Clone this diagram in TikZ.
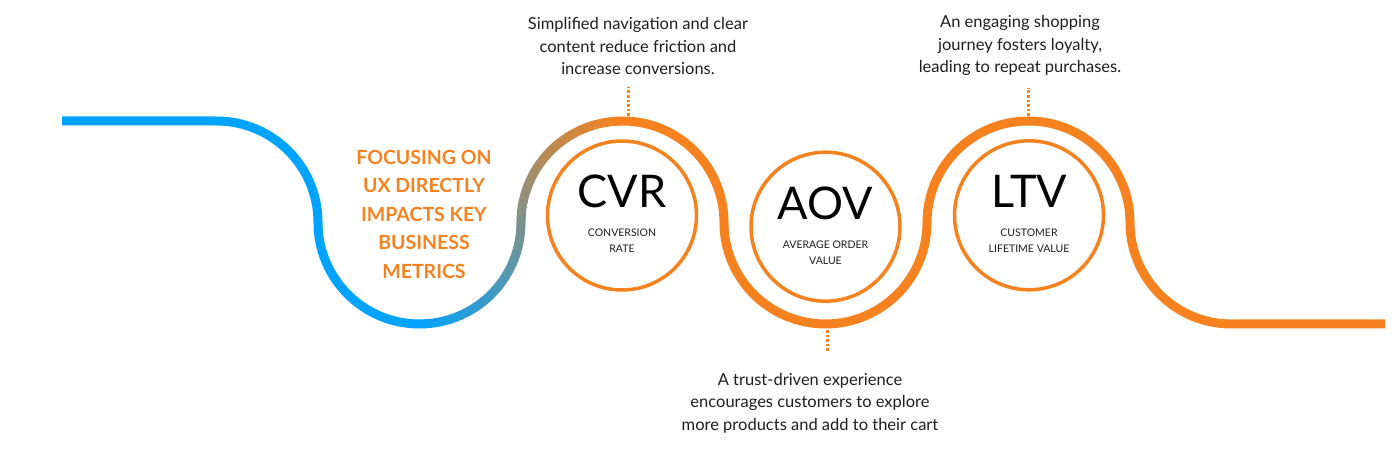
\documentclass[tikz,border=0pt]{standalone}
\usepackage{fontspec}
\setmainfont{Lato}
\usetikzlibrary{positioning}
\definecolor{uxblue}{HTML}{00A3FF}
\definecolor{uxorange}{HTML}{F5821F}
\definecolor{uxtext}{HTML}{1E1E1E}

\begin{document}
\begin{tikzpicture}[x=1pt, y=1pt,
    wave/.style={line width=9pt},
    metric/.style={circle, draw=uxorange, line width=3.5pt, minimum size=149pt, inner sep=0pt},
    abbr/.style={font=\fontsize{45}{45}\selectfont, text=black, inner sep=0pt},
    longname/.style={font=\fontsize{10.5}{16}\selectfont, align=center, text=uxtext, inner sep=0pt},
    note/.style={font=\fontsize{16.5}{22.5}\selectfont, align=center, text=uxtext},
    headline/.style={font=\fontsize{19.5}{28.5}\selectfont\bfseries, align=center, text=uxorange, inner sep=0pt},
    dots/.style={uxorange, line width=3pt, dash pattern=on 2.6pt off 2pt},
  ]
  \useasboundingbox (0,0) rectangle (1400,450);

  \coordinate (start) at (62,329);
  \coordinate (bend) at (216.5,329);
  \coordinate (dip) at (419.5,227.5);
  \coordinate (hump) at (622.5,227.5);
  \coordinate (crest) at (622.5,329);
  \coordinate (finish) at (1385,126);

  \draw[wave, uxblue] (start) -- (bend)
    arc[start angle=90, end angle=0, radius=101.5]
    arc[start angle=180, end angle=270, radius=101.5];
  \draw[wave, uxorange] (crest)
    arc[start angle=90, end angle=0, radius=101.5]
    arc[start angle=180, end angle=360, radius=101.5]
    arc[start angle=180, end angle=0, radius=101.5]
    arc[start angle=180, end angle=270, radius=101.5] -- (finish);
  \foreach \i in {1,...,30} {
    \pgfmathtruncatemacro\mixa{100-(\i-0.5)*100/60}
    \pgfmathtruncatemacro\mixb{100-(\i+29.5)*100/60}
    \draw[wave, line cap=round, uxblue!\mixa!uxorange] (dip) ++({267+3*\i}:101.5)
      arc[start angle={267+3*\i}, end angle={270+3*\i}, radius=101.5];
    \draw[wave, line cap=round, uxblue!\mixb!uxorange] (hump) ++({183-3*\i}:101.5)
      arc[start angle={183-3*\i}, end angle={180-3*\i}, radius=101.5];
  }

  \node[metric] (cvr) at (622,234.5) {};
  \node[metric] (aov) at (825.5,223.3) {};
  \node[metric] (ltv) at (1029,234.7) {};

  \node[abbr] (cvrabbr) at ([yshift=24pt]cvr.center) {CVR};
  \node[longname, below=20.6pt of cvrabbr] (cvrname) {CONVERSION\\RATE};
  \node[abbr] (aovabbr) at ([yshift=23pt]aov.center) {AOV};
  \node[longname, below=20.6pt of aovabbr] (aovname) {AVERAGE ORDER\\VALUE};
  \node[abbr] (ltvabbr) at ([yshift=24pt]ltv.center) {LTV};
  \node[longname, below=20.6pt of ltvabbr] (ltvname) {CUSTOMER\\LIFETIME VALUE};

  \node[headline] (title) at (424,235.8) {FOCUSING ON\\UX DIRECTLY\\IMPACTS KEY\\BUSINESS\\METRICS};

  \node[note] (cvrnote) at (638,404) {Simplified navigation and clear\\content reduce friction and\\increase conversions.};
  \node[note] (aovnote) at (810,47) {A trust-driven experience\\encourages customers to explore\\more products and add to their cart};
  \node[note] (ltvnote) at (1020,404.5) {An engaging shopping\\journey fosters loyalty,\\leading to repeat purchases.};

  \coordinate (cvrpin) at (628,334);
  \coordinate (cvrtip) at (628,363);
  \coordinate (aovpin) at (827,120);
  \coordinate (aovtip) at (827,98);
  \coordinate (ltvpin) at (1028,334);
  \coordinate (ltvtip) at (1028,362);
  \draw[dots] (cvrpin) -- (cvrtip);
  \draw[dots] (aovpin) -- (aovtip);
  \draw[dots] (ltvpin) -- (ltvtip);
\end{tikzpicture}
\end{document}
